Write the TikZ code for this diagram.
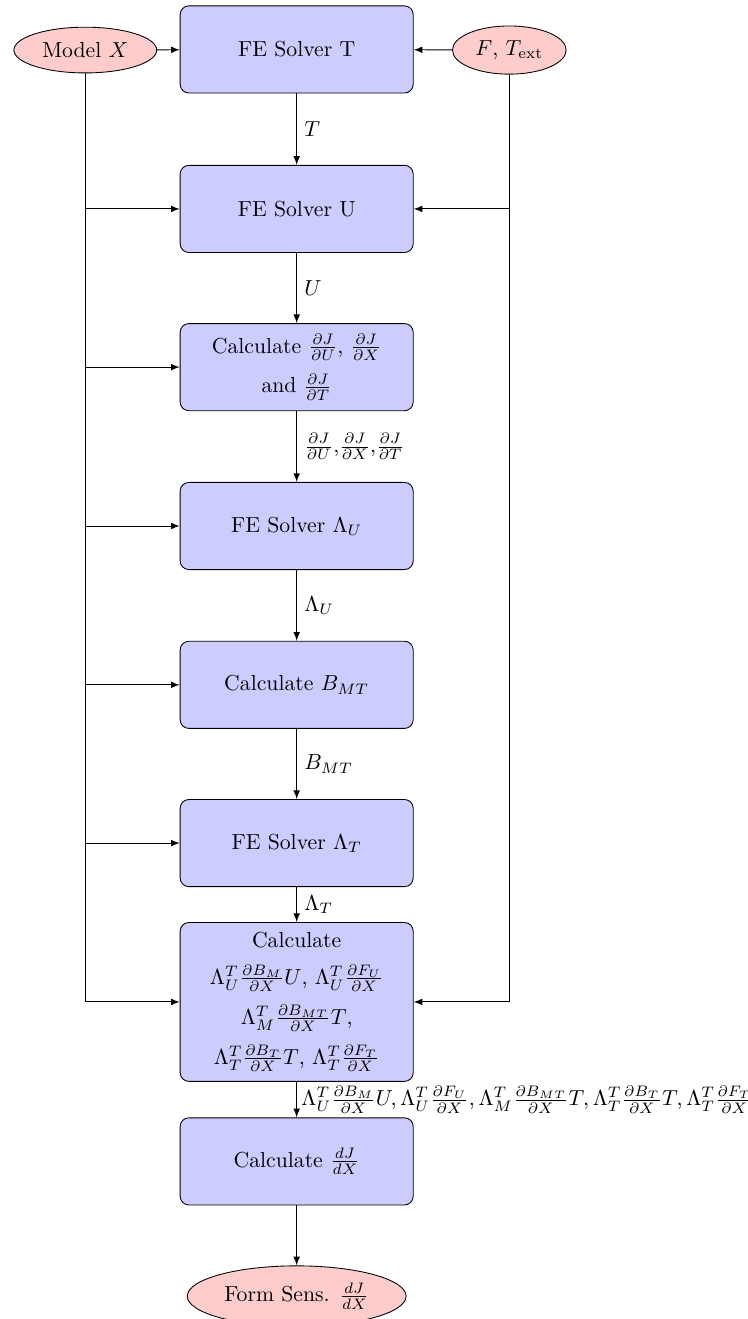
\documentclass[tikz,border=0pt]{standalone}
\usepackage{amsmath}
\usepackage{amsfonts}
\usepackage{amssymb}
\usetikzlibrary{shapes.geometric}
\tikzset{
	solver/.style={draw, rectangle, rounded corners, fill=blue!20, minimum width=3.77cm, minimum height=1.41cm, align=center},
	data/.style={draw, ellipse, fill=red!20, inner sep=1pt},
	line/.style={draw, ->, >=latex},
}
\begin{document}
\begin{tikzpicture}
	\useasboundingbox (0,0) rectangle (12.10,-21.34);
	% blocks
	\node[solver] (feT) at (4.80,-0.80) {FE Solver T};
	\node[solver] (feU) at (4.80,-3.38) {FE Solver U};
	\node[solver] (calcJ) at (4.80,-5.94) {Calculate $\frac{\partial J}{\partial U}$, $\frac{\partial J}{\partial X}$\\[5pt] and $\frac{\partial J}{\partial T}$};
	\node[solver] (feLU) at (4.80,-8.51) {FE Solver $\Lambda_U$};
	\node[solver] (calcB) at (4.80,-11.08) {Calculate $B_{MT}$};
	\node[solver] (feLT) at (4.80,-13.64) {FE Solver $\Lambda_T$};
	\node[solver, minimum height=2.57cm] (calcS) at (4.80,-16.21) {Calculate\\[5pt] $\Lambda_U^T\frac{\partial B_M}{\partial X}U$, $\Lambda_U^T\frac{\partial F_U}{\partial X}$\\[5pt] $\Lambda_M^T\frac{\partial B_{MT}}{\partial X}T$,\\[5pt] $\Lambda_T^T\frac{\partial B_T}{\partial X}T$, $\Lambda_T^T\frac{\partial F_T}{\partial X}$};
	\node[solver] (calcD) at (4.80,-18.79) {Calculate $\frac{dJ}{dX}$};
	% inputs and output
	\node[data, minimum width=2.31cm, minimum height=0.74cm] (model) at (1.38,-0.81) {Model $X$};
	\node[data, minimum width=1.84cm, minimum height=0.78cm] (load) at (8.24,-0.81) {$F$, $T_{\text{ext}}$};
	\node[data, minimum width=3.54cm, minimum height=0.98cm] (sens) at (4.80,-20.97) {Form Sens. $\frac{dJ}{dX}$};
	% main chain
	\draw[line] (feT) -- node[right] {$T$} (feU);
	\draw[line] (feU) -- node[right] {$U$} (calcJ);
	\draw[line] (calcJ) -- node[right] {$\frac{\partial J}{\partial U}$,$\frac{\partial J}{\partial X}$,$\frac{\partial J}{\partial T}$} (feLU);
	\draw[line] (feLU) -- node[right] {$\Lambda_U$} (calcB);
	\draw[line] (calcB) -- node[right] {$B_{MT}$} (feLT);
	\draw[line] (feLT) -- node[right] {$\Lambda_T$} (calcS);
	\draw[line] (calcS) -- node[right, inner sep=2pt] {$\Lambda_U^T\frac{\partial B_M}{\partial X}U, \Lambda_U^T\frac{\partial F_U}{\partial X}, \Lambda_M^T\frac{\partial B_{MT}}{\partial X}T, \Lambda_T^T\frac{\partial B_T}{\partial X}T, \Lambda_T^T\frac{\partial F_T}{\partial X}$} (calcD);
	\draw[line] (calcD) -- (sens);
	% feeds
	\draw[line] (model) -- (feT);
	\draw[line] (load) -- (feT);
	\foreach \n in {feU,calcJ,feLU,calcB,feLT,calcS}
		\draw[line] (model.south) |- (\n.west);
	\draw[line] (load.south) |- (feU.east);
	\draw[line] (load.south) |- (calcS.east);
\end{tikzpicture}
\end{document}
